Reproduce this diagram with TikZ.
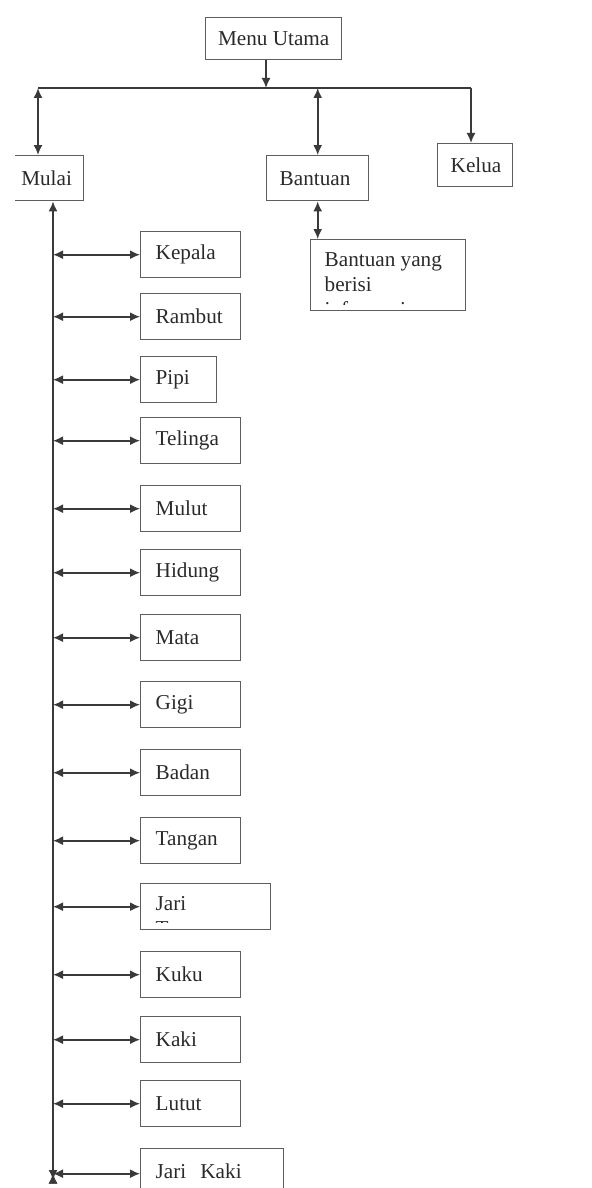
\documentclass[tikz,border=0pt]{standalone}
\usepackage{fontspec}
\setmainfont{Liberation Serif}
\usetikzlibrary{arrows.meta}

\definecolor{linegray}{HTML}{3A3A3A}
\definecolor{boxgray}{HTML}{5E5E5E}
\definecolor{textgray}{HTML}{2A2A2A}

\begin{document}
\begin{tikzpicture}[
    x=0.5pt,y=-0.5pt,>={Latex[length=5pt,width=4.5pt]},
    color=linegray,line width=0.8pt,
    box/.style={draw=boxgray,line width=0.7pt,rectangle,inner ysep=0pt,
      font=\fontsize{10.6}{12.5}\selectfont,text=textgray,align=left},
    part/.style={box,anchor=north west,minimum height=23pt,inner xsep=7.5pt,text width=#1},
    part/.default=35pt
  ]
  \useasboundingbox (0,0) rectangle (591,1188);
  \clip (0,0) rectangle (591,1188);

  % top level
  \node[box,anchor=north west,minimum width=68pt,minimum height=21pt,align=center] (menu) at (205,17) {Menu Utama};
  \begin{scope}
    \clip (15,0) rectangle (591,1188);
    \node[box,anchor=north east,minimum height=22.5pt,inner xsep=7pt,text width=24pt] (mulai) at (84,155) {Mulai};
  \end{scope}
  \node[box,anchor=north west,minimum height=22.5pt,inner xsep=6.5pt,text width=38pt] (bantuan) at (266,155) {Bantuan};
  \node[box,anchor=north west,minimum height=21.5pt,inner xsep=6.5pt,text width=24.5pt] (kelua) at (437,143) {Kelua};

  % help text, cut off at the bottom
  \node[box,anchor=north west,minimum width=77.5pt,minimum height=35.5pt] (info) at (310,239) {};
  \begin{scope}
    \clip (310,239) rectangle (465,304);
    \node[box,draw=none,anchor=north west,inner sep=0pt] (infotext) at (324,252) {Bantuan yang\\berisi\\informasi};
  \end{scope}

  % parts
  \node[part] (kepala) at (140,231) {Kepala};
  \node[part] (rambut) at (140,293) {Rambut};
  \node[part=23pt] (pipi) at (140,356) {Pipi};
  \node[part] (telinga) at (140,417) {Telinga};
  \node[part] (mulut) at (140,485) {Mulut};
  \node[part] (hidung) at (140,549) {Hidung};
  \node[part] (mata) at (140,614) {Mata};
  \node[part] (gigi) at (140,681) {Gigi};
  \node[part] (badan) at (140,749) {Badan};
  \node[part] (tangan) at (140,817) {Tangan};
  \node[part=50pt] (jari) at (140,883) {};
  \begin{scope}
    \clip (140,883) rectangle (270,922);
    \node[box,draw=none,anchor=north west,inner sep=0pt] (jaritext) at (155,896) {Jari\\Tangan};
  \end{scope}
  \node[part] (kuku) at (140,951) {Kuku};
  \node[part] (kaki) at (140,1016) {Kaki};
  \node[part] (lutut) at (140,1080) {Lutut};
  \node[part=56.5pt] (jarikaki) at (140,1148) {Jari~~Kaki};

  \coordinate (hL) at (38,88);
  \coordinate (hM) at (266,88);
  \coordinate (hR) at (471,88);
  \coordinate (trunk) at (53,1180);

  \draw (hL) -- (hR);
  \draw[->] (menu.south -| hM) -- (hM);
  \draw[<->] (hL) -- (hL |- mulai.north);
  \draw[<->] (bantuan.north |- hL) -- (bantuan.north);
  \draw[->] (hR) -- (hR |- kelua.north);
  \draw[<->] (bantuan.south) -- (bantuan.south |- info.north);
  \draw[<->] (trunk |- mulai.south) -- (trunk);

  \draw[<->]
    (kepala.west -| trunk) edge (kepala.west)
    (rambut.west -| trunk) edge (rambut.west)
    (pipi.west -| trunk) edge (pipi.west)
    (telinga.west -| trunk) edge (telinga.west)
    (mulut.west -| trunk) edge (mulut.west)
    (hidung.west -| trunk) edge (hidung.west)
    (mata.west -| trunk) edge (mata.west)
    (gigi.west -| trunk) edge (gigi.west)
    (badan.west -| trunk) edge (badan.west)
    (tangan.west -| trunk) edge (tangan.west)
    (jari.west -| trunk) edge (jari.west)
    (kuku.west -| trunk) edge (kuku.west)
    (kaki.west -| trunk) edge (kaki.west)
    (lutut.west -| trunk) edge (lutut.west)
    ([yshift=-1pt]jarikaki.west -| trunk) edge ([yshift=-1pt]jarikaki.west);
\end{tikzpicture}
\end{document}
